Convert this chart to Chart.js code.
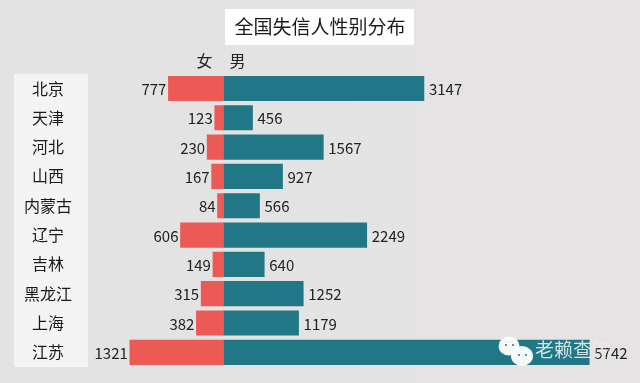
<!DOCTYPE html>
<html>
<head>
<meta charset="utf-8">
<script src="https://cdn.jsdelivr.net/npm/chart.js@4/dist/chart.umd.min.js"></script>
<style>
html, body { margin: 0; padding: 0; background: linear-gradient(90deg, #e3e3e3, #e6e3e4); overflow: hidden; }
#wrap { width: 640px; height: 383px; position: relative; }
</style>
</head>
<body>
<div id="wrap"><canvas id="chart"></canvas></div>
<script>
const provinces = ['北京', '天津', '河北', '山西', '内蒙古', '辽宁', '吉林', '黑龙江', '上海', '江苏'];
const femaleValues = [777, 123, 230, 167, 84, 606, 149, 315, 382, 1321];
const maleValues = [3147, 456, 1567, 927, 566, 2249, 640, 1252, 1179, 5742];

const FONT = '"Noto Sans CJK SC", "Noto Sans", sans-serif';
const RED = '#ec5a55';
const TEAL = '#217786';

// 标题白底、省份白底
const backdrop = {
    id: 'backdrop',
    beforeDraw(chart) {
        const ctx = chart.ctx;
        const y = chart.scales.y;
        ctx.save();
        ctx.fillStyle = '#ffffff';
        ctx.fillRect(225, 9, 189, 36);
        ctx.fillStyle = '#f4f4f4';
        ctx.fillRect(y.left + 14, y.top, y.right - y.left - 14, y.bottom - y.top);
        ctx.restore();
    },
};

// 数值标签、女/男表头、水印
const barLabels = {
    id: 'barLabels',
    afterDatasetsDraw(chart) {
        const ctx = chart.ctx;
        ctx.save();
        ctx.font = '15px ' + FONT;
        ctx.fillStyle = '#222222';
        ctx.textBaseline = 'middle';

        ctx.textAlign = 'right';
        chart.getDatasetMeta(0).data.forEach((bar, i) => {
            ctx.fillText(femaleValues[i], bar.x - 2, bar.y + 1);
        });
        ctx.textAlign = 'left';
        chart.getDatasetMeta(1).data.forEach((bar, i) => {
            ctx.fillText(maleValues[i], bar.x + 5, bar.y + 1);
        });

        const zero = chart.scales.x.getPixelForValue(0);
        ctx.font = '16px ' + FONT;
        ctx.textAlign = 'center';
        ctx.fillText(chart.data.datasets[0].label, zero - 19, 61);
        ctx.fillText(chart.data.datasets[1].label, zero + 14, 61);

        // 水印
        [[509, 346, 9.5], [522, 356, 10]].forEach(([cx, cy, r]) => {
            ctx.fillStyle = 'rgba(255,255,255,0.95)';
            ctx.beginPath();
            ctx.ellipse(cx, cy, r + 1, r, 0, 0, Math.PI * 2);
            ctx.fill();
            ctx.fillStyle = '#6a8f98';
            ctx.fillRect(cx - 4, cy - 2, 2, 2);
            ctx.fillRect(cx + 3, cy - 2, 2, 2);
        });
        ctx.font = '19px ' + FONT;
        ctx.textAlign = 'left';
        ctx.fillStyle = 'rgba(255,255,255,0.8)';
        ctx.fillText('老赖查', 535, 350);
        ctx.fillStyle = 'rgba(255,255,255,0.3)';
        ctx.fillText('询', 592, 350);
        ctx.restore();
    },
};

new Chart(document.getElementById('chart'), {
    type: 'bar',
    data: {
        labels: provinces,
        datasets: [
            {
                label: '女',
                data: femaleValues.map(v => -v),
                backgroundColor: RED,
                xAxisID: 'xFemale',
                grouped: false,
                barThickness: 24.5,
            },
            {
                label: '男',
                data: maleValues,
                backgroundColor: TEAL,
                xAxisID: 'x',
                grouped: false,
                barThickness: 24.5,
            },
        ],
    },
    plugins: [backdrop, barLabels],
    options: {
        indexAxis: 'y',
        responsive: true,
        maintainAspectRatio: false,
        animation: false,
        layout: { padding: { left: 0, right: 0, top: 0, bottom: 16 } },
        plugins: {
            legend: { display: false },
            tooltip: { enabled: false },
            title: {
                display: true,
                text: '全国失信人性别分布',
                color: '#1a1a1a',
                font: { family: FONT, size: 19, weight: 'normal' },
                padding: { top: 15, bottom: 36 },
            },
        },
        scales: {
            // 男女两侧比例尺不同，零点对齐
            x: { display: false, min: -2127, max: 6539 },
            xFemale: { display: false, min: -1911, max: 5875 },
            y: {
                position: 'left',
                offset: true,
                grid: { display: false, drawTicks: false },
                border: { display: false },
                afterFit(scale) {
                    scale.width = 88;
                    scale.paddingTop = 0;
                    scale.paddingBottom = 0;
                },
                ticks: {
                    color: '#1a1a1a',
                    crossAlign: 'center',
                    padding: 16,
                    font: { family: FONT, size: 16 },
                },
            },
        },
    },
});
</script>
</body>
</html>
